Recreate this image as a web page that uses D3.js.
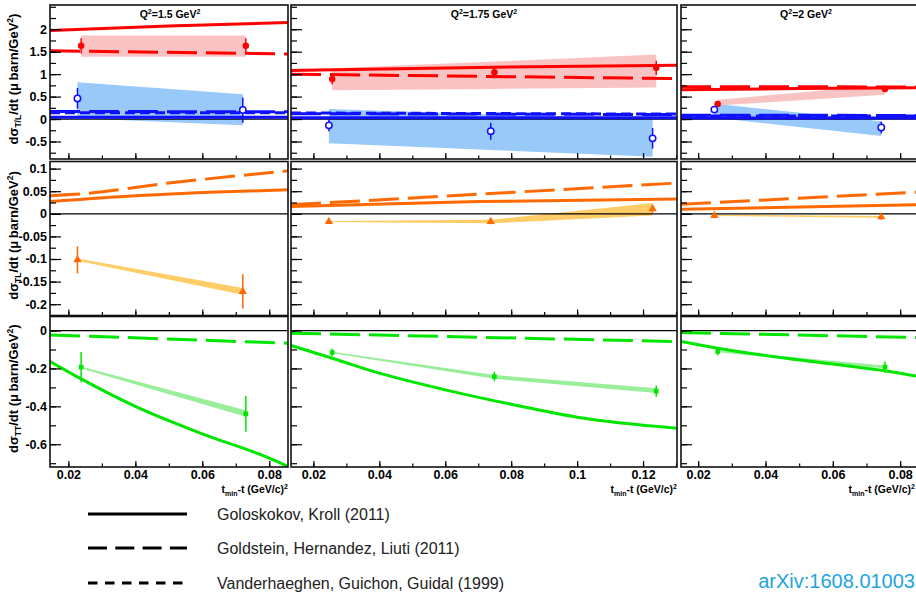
<!DOCTYPE html>
<html>
<head>
<meta charset="utf-8">
<script src="https://cdn.jsdelivr.net/npm/d3@7"></script>
<style>
body { margin: 0; background: #fff; }
</style>
</head>
<body>
<script>
// ---- values ----
var q2Titles = ["1.5", "1.75", "2"];
var xDomains = [[0.0145, 0.0856], [0.0132, 0.1303], [0.0149, 0.0856]];
var xTickLabels = [[0.02, 0.04, 0.06, 0.08], [0.02, 0.04, 0.06, 0.08, 0.1, 0.12], [0.02, 0.04, 0.06, 0.08]];
var yDomains = [[-0.89, 2.54], [-0.225, 0.1157], [-0.72, 0.074]];
var yTickLabels = [[-0.5, 0, 0.5, 1, 1.5, 2], [-0.2, -0.15, -0.1, -0.05, 0, 0.05, 0.1], [-0.6, -0.4, -0.2, 0]];
var yMinorStep = [0.25, 0.025, 0.1];
var ySubs = ["T/L", "TL", "TT"];

// t bins (slightly shifted for L / TL points)
var tT = [[0.0238, 0.0730], [0.0257, 0.0749, 0.1240], [0.0258, 0.0755]];
var tL = [[0.0227, 0.0721], [0.0247, 0.0738, 0.1229], [0.0248, 0.0744]];

// sigma_T
var sigT      = [[1.63, 1.63], [0.89, 1.04, 1.14], [0.335, 0.667]];
var sigTErr   = [[0.17, 0.17], [0.12, 0.13, 0.16], [0.06, 0.06]];
var sigTSysLo = [[1.39, 1.39], [0.64, 0.67, 0.70], [0.30, 0.54]];
var sigTSysHi = [[1.86, 1.86], [1.13, 1.28, 1.44], [0.43, 0.76]];
// sigma_L
var sigL      = [[0.46, 0.20], [-0.14, -0.27, -0.43], [0.21, -0.19]];
var sigLErr   = [[0.23, 0.28], [0.13, 0.19, 0.23], [0.05, 0.13]];
var sigLSysLo = [[0.02, -0.14], [-0.54, -0.69, -0.84], [0.03, -0.38]];
var sigLSysHi = [[0.82, 0.55], [0.225, 0.10, -0.01], [0.34, -0.05]];
// sigma_TL
var sigTL      = [[-0.102, -0.172], [-0.017, -0.017, 0.011], [-0.004, -0.007]];
var sigTLErr   = [[0.03, 0.038], [0.004, 0.006, 0.008], [0.004, 0.006]];
var sigTLSysLo = [[-0.104, -0.179], [-0.018, -0.021, -0.004], [-0.005, -0.009]];
var sigTLSysHi = [[-0.099, -0.164], [-0.016, -0.013, 0.024], [-0.002, -0.005]];
// sigma_TT
var sigTT      = [[-0.193, -0.44], [-0.116, -0.243, -0.32], [-0.11, -0.193]];
var sigTTErr   = [[0.08, 0.094], [0.02, 0.025, 0.03], [0.02, 0.03]];
var sigTTSysLo = [[-0.20, -0.455], [-0.12, -0.255, -0.33], [-0.115, -0.20]];
var sigTTSysHi = [[-0.19, -0.42], [-0.112, -0.235, -0.305], [-0.105, -0.185]];

// model curves [t, value]
var gkT  = [[[0.0145, 1.97], [0.05, 2.07], [0.0856, 2.15]], [[0.0132, 1.08], [0.07, 1.15], [0.1303, 1.20]], [[0.0149, 0.65], [0.05, 0.68], [0.0856, 0.70]]];
var ghlT = [[[0.0145, 1.52], [0.0856, 1.45]], [[0.0132, 1.0], [0.1303, 0.90]], [[0.0149, 0.72], [0.0856, 0.715]]];
var gkL  = [[[0.0145, 0.04], [0.0856, 0.04]], [[0.0132, 0.03], [0.1303, 0.03]], [[0.0149, 0.025], [0.0856, 0.025]]];
var ghlL = [[[0.0145, 0.17], [0.0856, 0.16]], [[0.0132, 0.12], [0.1303, 0.10]], [[0.0149, 0.085], [0.0856, 0.08]]];
var vggL = [[[0.0145, 0.14], [0.0856, 0.14]], [[0.0132, 0.135], [0.1303, 0.11]], [[0.0149, 0.07], [0.0856, 0.07]]];
var gkTL  = [[[0.0145, 0.027], [0.04, 0.040], [0.06, 0.047], [0.0856, 0.053]], [[0.0132, 0.016], [0.07, 0.027], [0.1303, 0.033]], [[0.0149, 0.010], [0.0856, 0.020]]];
var ghlTL = [[[0.0145, 0.040], [0.022, 0.043], [0.05, 0.068], [0.0856, 0.095]], [[0.0132, 0.020], [0.1303, 0.068]], [[0.0149, 0.021], [0.0856, 0.048]]];
var gkTT  = [[[0.0145, -0.163], [0.0238, -0.255], [0.04, -0.40], [0.06, -0.545], [0.08, -0.673], [0.0856, -0.717]],
             [[0.0132, -0.079], [0.0257, -0.146], [0.04, -0.225], [0.06, -0.313], [0.08, -0.389], [0.10, -0.457], [0.1303, -0.515]],
             [[0.0149, -0.058], [0.0258, -0.093], [0.04, -0.132], [0.06, -0.177], [0.08, -0.225], [0.0856, -0.243]]];
var ghlTT = [[[0.0145, -0.023], [0.0856, -0.067]], [[0.0132, -0.014], [0.1303, -0.058]], [[0.0149, -0.011], [0.0856, -0.037]]];

var legendNames = ["Goloskokov, Kroll (2011)", "Goldstein, Hernandez, Liuti (2011)", "Vanderhaeghen, Guichon, Guidal (1999)"];

// ---- layout ----
var width = 916, height = 593;
var font = "'Liberation Sans', Arial, sans-serif";
var cols = [{x0: 50, x1: 288}, {x0: 291, x1: 677}, {x0: 681, x1: 919}];
var rows = [{y0: 5, y1: 159}, {y0: 161.5, y1: 315.5}, {y0: 316.5, y1: 467}];
var titleX = [170, 484, 806];
var xTitleRight = [288, 677, 915];

var red = "#ff0000", blue = "#1010ff", orange = "#ff6a00", green = "#00e600";
var dashLong = "30,9", dashShort = "10,5";

var rowData = [
  [{t: tT, v: sigT, err: sigTErr, lo: sigTSysLo, hi: sigTSysHi, color: red, band: "#fac3c3", marker: "dot"},
   {t: tL, v: sigL, err: sigLErr, lo: sigLSysLo, hi: sigLSysHi, color: blue, band: "#99c9f9", marker: "open"}],
  [{t: tL, v: sigTL, err: sigTLErr, lo: sigTLSysLo, hi: sigTLSysHi, color: orange, band: "#ffcc66", marker: "tri"}],
  [{t: tT, v: sigTT, err: sigTTErr, lo: sigTTSysLo, hi: sigTTSysHi, color: green, band: "#99ee99", marker: "sq"}]
];
var rowModels = [
  [{d: gkT, color: red, dash: null}, {d: ghlT, color: red, dash: dashLong},
   {d: gkL, color: blue, dash: null}, {d: ghlL, color: blue, dash: dashLong}, {d: vggL, color: blue, dash: dashShort}],
  [{d: gkTL, color: orange, dash: null}, {d: ghlTL, color: orange, dash: dashLong}],
  [{d: gkTT, color: green, dash: null}, {d: ghlTT, color: green, dash: dashLong}]
];

var svg = d3.select("body").append("svg")
    .attr("width", width)
    .attr("height", height);

rows.forEach(function(row, r) {
  cols.forEach(function(col, c) {
    var x = d3.scaleLinear().domain(xDomains[c]).range([col.x0, col.x1]);
    var y = d3.scaleLinear().domain(yDomains[r]).range([row.y1, row.y0]);

    var id = "clip" + r + c;
    svg.append("clipPath").attr("id", id).append("rect")
        .attr("x", col.x0).attr("y", row.y0)
        .attr("width", col.x1 - col.x0).attr("height", row.y1 - row.y0);
    var g = svg.append("g").attr("clip-path", "url(#" + id + ")");

    // systematic bands
    rowData[r].forEach(function(s) {
      var pts = s.t[c].map(function(t, i) { return {t: t, lo: s.lo[c][i], hi: s.hi[c][i]}; });
      g.append("path").datum(pts)
          .attr("d", d3.area().x(function(d) { return x(d.t); })
                              .y0(function(d) { return y(d.lo); })
                              .y1(function(d) { return y(d.hi); }))
          .attr("fill", s.band);
    });

    // zero line
    g.append("line")
        .attr("x1", col.x0).attr("x2", col.x1)
        .attr("y1", y(0)).attr("y2", y(0))
        .attr("stroke", "#000").attr("stroke-width", 1.2);

    // model curves
    rowModels[r].forEach(function(m) {
      g.append("path").datum(m.d[c])
          .attr("d", d3.line().x(function(d) { return x(d[0]); })
                              .y(function(d) { return y(d[1]); })
                              .curve(d3.curveMonotoneX))
          .attr("fill", "none")
          .attr("stroke", m.color)
          .attr("stroke-width", 3)
          .attr("stroke-dasharray", m.dash);
    });

    // data points
    rowData[r].forEach(function(s) {
      var pts = s.t[c].map(function(t, i) { return {t: t, v: s.v[c][i], e: s.err[c][i]}; });
      g.selectAll(null).data(pts).enter().append("line")
          .attr("x1", function(d) { return x(d.t); })
          .attr("x2", function(d) { return x(d.t); })
          .attr("y1", function(d) { return y(d.v - d.e); })
          .attr("y2", function(d) { return y(d.v + d.e); })
          .attr("stroke", s.color).attr("stroke-width", 1.5);
      if (s.marker === "dot" || s.marker === "open") {
        g.selectAll(null).data(pts).enter().append("circle")
            .attr("cx", function(d) { return x(d.t); })
            .attr("cy", function(d) { return y(d.v); })
            .attr("r", s.marker === "dot" ? 2.5 : 3.2)
            .attr("fill", s.marker === "dot" ? s.color : "#fff")
            .attr("stroke", s.color).attr("stroke-width", 1.5);
      } else {
        var sym = d3.symbol().type(s.marker === "tri" ? d3.symbolTriangle : d3.symbolSquare)
                             .size(s.marker === "tri" ? 30 : 22);
        g.selectAll(null).data(pts).enter().append("path")
            .attr("transform", function(d) { return "translate(" + x(d.t) + "," + y(d.v) + ")"; })
            .attr("d", sym)
            .attr("fill", s.color);
      }
    });

    // y axis ticks (minor + major), labels only in first column
    var step = yMinorStep[r];
    var yMinor = d3.range(Math.ceil(yDomains[r][0] / step), Math.floor(yDomains[r][1] / step) + 1)
        .map(function(k) { return +(k * step).toFixed(4); });
    svg.append("g").attr("transform", "translate(" + col.x0 + ",0)")
        .call(d3.axisLeft(y).tickValues(yMinor).tickSize(-6).tickFormat(function() { return ""; }))
        .call(function(a) { a.select(".domain").remove(); a.selectAll("line").attr("stroke-width", 1.2); });
    svg.append("g").attr("transform", "translate(" + col.x0 + ",0)")
        .call(d3.axisLeft(y).tickValues(yTickLabels[r]).tickSize(-11).tickPadding(3)
                .tickFormat(c === 0 ? String : function() { return ""; }))
        .call(function(a) {
          a.select(".domain").remove();
          a.selectAll("line").attr("stroke-width", 1.2);
          a.selectAll("text").attr("font-family", font).attr("font-size", 12.5)
              .attr("font-weight", "bold").attr("fill", "#000");
        });

    // x axis ticks, labels only in last row
    var xMajor = xTickLabels[c];
    var xMinor = d3.range(Math.ceil(xDomains[c][0] / 0.01), Math.floor(xDomains[c][1] / 0.01) + 1)
        .map(function(k) { return +(k * 0.01).toFixed(3); });
    svg.append("g").attr("transform", "translate(0," + row.y1 + ")")
        .call(d3.axisBottom(x).tickValues(xMinor).tickSize(-3.5).tickFormat(function() { return ""; }))
        .call(function(a) { a.select(".domain").remove(); a.selectAll("line").attr("stroke-width", 1.2); });
    svg.append("g").attr("transform", "translate(0," + row.y1 + ")")
        .call(d3.axisBottom(x).tickValues(xMajor).tickSize(-6).tickPadding(3)
                .tickFormat(r === 2 ? String : function() { return ""; }))
        .call(function(a) {
          a.select(".domain").remove();
          a.selectAll("line").attr("stroke-width", 1.2);
          a.selectAll("text").attr("font-family", font).attr("font-size", 12.5)
              .attr("font-weight", "bold").attr("fill", "#000");
        });

    // frame
    svg.append("rect")
        .attr("x", col.x0).attr("y", row.y0)
        .attr("width", col.x1 - col.x0).attr("height", row.y1 - row.y0)
        .attr("fill", "none").attr("stroke", "#111").attr("stroke-width", 1.6);

    // Q^2 titles
    if (r === 0) {
      var tt = svg.append("text").attr("x", titleX[c]).attr("y", 18)
          .attr("text-anchor", "middle").attr("font-family", font)
          .attr("font-size", 10.5).attr("font-weight", "bold");
      tt.append("tspan").text("Q");
      tt.append("tspan").attr("font-size", 7).attr("dy", -4).text("2");
      tt.append("tspan").attr("dy", 4).text("=" + q2Titles[c] + " GeV");
      tt.append("tspan").attr("font-size", 7).attr("dy", -4).text("2");
    }

    // x titles
    if (r === 2) {
      var xt = svg.append("text").attr("x", xTitleRight[c]).attr("y", 493)
          .attr("text-anchor", "end").attr("font-family", font)
          .attr("font-size", 10.5).attr("font-weight", "bold");
      xt.append("tspan").text("t");
      xt.append("tspan").attr("font-size", 7).attr("dy", 2.5).text("min");
      xt.append("tspan").attr("dy", -2.5).text("-t (GeV/c)");
      xt.append("tspan").attr("font-size", 7).attr("dy", -4).text("2");
    }
  });

  // y titles
  var cy = (row.y0 + row.y1) / 2 - 3;
  var yt = svg.append("text")
      .attr("transform", "translate(18," + cy + ") rotate(-90)")
      .attr("text-anchor", "middle").attr("font-family", font)
      .attr("font-size", 13).attr("font-weight", "bold");
  yt.append("tspan").text("dσ");
  yt.append("tspan").attr("font-size", 8.5).attr("dy", 3).text(ySubs[r]);
  yt.append("tspan").attr("dy", -3).text("/dt (μ\u2009barn/GeV");
  yt.append("tspan").attr("font-size", 8.5).attr("dy", -5).text("2");
  yt.append("tspan").attr("dy", 5).text(")");
});

// legend
var legendY = [514, 548, 583];
var legendDash = [null, "19,8.3", "9.5,7.5"];
legendNames.forEach(function(name, i) {
  svg.append("line")
      .attr("x1", 88).attr("x2", 187)
      .attr("y1", legendY[i]).attr("y2", legendY[i])
      .attr("stroke", "#000").attr("stroke-width", 3)
      .attr("stroke-dasharray", legendDash[i]);
  svg.append("text")
      .attr("x", 217).attr("y", legendY[i] + 5.5)
      .attr("font-family", font).attr("font-size", 16)
      .attr("fill", "#222")
      .text(name);
});

svg.append("text")
    .attr("x", 915).attr("y", 588)
    .attr("text-anchor", "end")
    .attr("font-family", font).attr("font-size", 20)
    .attr("fill", "#22a4e0")
    .text("arXiv:1608.01003");
</script>
</body>
</html>
